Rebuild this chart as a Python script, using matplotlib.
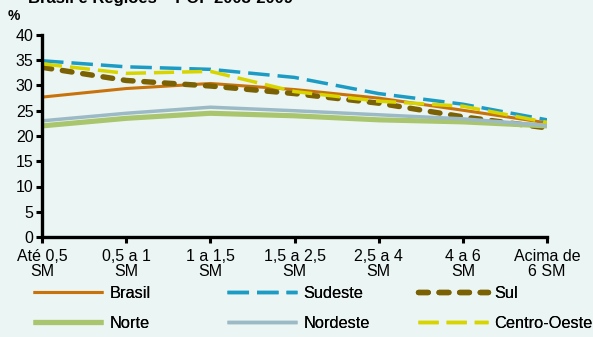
import matplotlib
matplotlib.use("Agg")
import matplotlib.pyplot as plt

plt.rcParams['font.family'] = ['Liberation Sans', 'DejaVu Sans']

categories = ["Até 0,5\nSM", "0,5 a 1\nSM", "1 a 1,5\nSM", "1,5 a 2,5\nSM",
              "2,5 a 4\nSM", "4 a 6\nSM", "Acima de\n6 SM"]
brasil = [27.7, 29.4, 30.4, 29.2, 27.5, 25.1, 22.6]
sudeste = [34.9, 33.7, 33.2, 31.6, 28.4, 26.3, 23.2]
sul = [33.6, 31.0, 29.9, 28.4, 26.5, 23.8, 21.6]
norte = [22.0, 23.5, 24.5, 24.0, 23.2, 22.8, 22.0]
nordeste = [23.0, 24.5, 25.7, 25.0, 24.2, 23.4, 22.1]
centro_oeste = [34.3, 32.4, 32.8, 28.8, 26.9, 25.9, 22.7]
y_ticks = [0, 5, 10, 15, 20, 25, 30, 35, 40]

bg = "#EBF5F3"
W, H = 593, 337
fig = plt.figure(figsize=(W / 100, H / 100), dpi=100, facecolor=bg)
ax = fig.add_axes([42 / W, 1 - 237 / H, (547 - 42) / W, (237 - 35) / H])
ax.set_facecolor(bg)

x = list(range(len(categories)))
styles = [
    ("Brasil", brasil, dict(color="#C8720C", lw=2.2)),
    ("Sudeste", sudeste, dict(color="#1C9CC4", lw=2.5, dashes=(6.2, 2.3))),
    ("Sul", sul, dict(color="#7A6103", lw=3.9, dashes=(1.8, 2.0),
                      dash_capstyle="round")),
    ("Norte", norte, dict(color="#A9C56D", lw=3.7)),
    ("Nordeste", nordeste, dict(color="#9CBAC5", lw=2.5)),
    ("Centro-Oeste", centro_oeste, dict(color="#D7D400", lw=2.5,
                                        dashes=(5.8, 2.3))),
]
handles = {}
for name, vals, kw in styles:
    line, = ax.plot(x, vals, label=name, solid_capstyle="butt", **kw)
    handles[name] = line

ax.set_xlim(0, len(categories) - 1)
ax.set_ylim(0, 40)
ax.set_yticks(y_ticks)
ax.set_xticks(x)
ax.set_xticklabels(categories, fontsize=11.5, linespacing=1.0)
ax.tick_params(axis="y", labelsize=11.5, length=4, width=2.2, direction="out", pad=2)
ax.tick_params(axis="x", length=4, width=2.2, direction="out", pad=4.5)
for side in ("top", "right"):
    ax.spines[side].set_visible(False)
for side in ("left", "bottom"):
    ax.spines[side].set_linewidth(2.4)
    ax.spines[side].set_color("black")

fig.text(28 / W, 1 - 3 / H, "Brasil e Regiões – POF 2008-2009",
         fontsize=12, fontweight="bold", va="baseline", ha="left")
fig.text(8 / W, 1 - 20 / H, "%", fontsize=10, fontweight="bold",
         va="baseline", ha="left")

# legend laid out as three columns of two rows
columns = [(33, ["Brasil", "Norte"]), (227, ["Sudeste", "Nordeste"]),
           (418, ["Sul", "Centro-Oeste"])]
for xpix, names in columns:
    leg = fig.legend([handles[n] for n in names], names,
                     loc="upper left", bbox_to_anchor=(xpix / W, 1 - 286 / H),
                     frameon=False, fontsize=11.8, handlelength=4.25,
                     handletextpad=0.4, labelspacing=0.9, borderpad=0,
                     borderaxespad=0)
    fig.add_artist(leg)

fig.savefig("out.png", dpi=100, facecolor=bg)
